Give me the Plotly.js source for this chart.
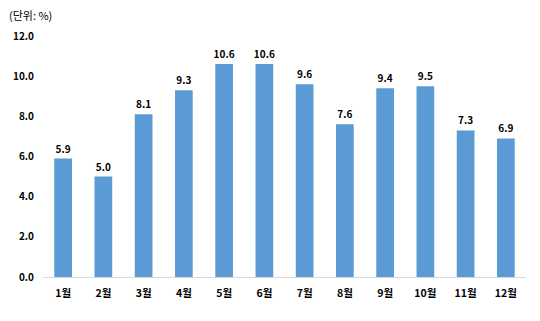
<!DOCTYPE html>
<html><head><meta charset="utf-8">
<script src="https://cdn.plot.ly/plotly-3.0.1.min.js"></script>
<style>html,body{margin:0;padding:0;background:#fff}#c{width:540px;height:321px}</style>
</head><body><div id="c"></div>
<script>
const months = ['1월','2월','3월','4월','5월','6월','7월','8월','9월','10월','11월','12월'];
const values = [5.9,5.0,8.1,9.3,10.6,10.6,9.6,7.6,9.4,9.5,7.3,6.9];
const yTicks = [0,2,4,6,8,10,12];
const unitLabel = '(단위: %)';
const font = 'Malgun Gothic, "Noto Sans CJK KR", sans-serif';
Plotly.newPlot('c', [{
  type:'bar', x:months, y:values,
  marker:{color:'#5B9BD5'},
  text:values.map(v=>v.toFixed(1)), textposition:'outside', cliponaxis:false,
  constraintext:'none',
  textfont:{family:font, size:10, color:'#000', weight:'bold'},
  hoverinfo:'none'
}], {
  width:540, height:321,
  margin:{l:43, r:14, t:36, b:44},
  paper_bgcolor:'#fff', plot_bgcolor:'#fff',
  bargap:0.56,
  showlegend:false,
  uniformtext:{mode:false},
  xaxis:{showline:true, linecolor:'#d9d9d9', linewidth:1, ticks:'', showgrid:false,
    tickfont:{family:font, size:10.5, color:'#000', weight:'bold'}, ticklabelstandoff:6},
  yaxis:{range:[0,12], tickvals:yTicks, ticktext:yTicks.map(v=>v.toFixed(1)),
    showgrid:false, zeroline:false, showline:false, ticks:'',
    tickfont:{family:font, size:10, color:'#000', weight:'bold'}, ticklabelstandoff:8},
  annotations:[{text:unitLabel, xref:'paper', yref:'paper', x:0, y:1, xshift:-36, yshift:21,
    xanchor:'left', yanchor:'middle', showarrow:false, font:{family:font, size:11, color:'#000'}}]
}, {staticPlot:true});
</script></body></html>
